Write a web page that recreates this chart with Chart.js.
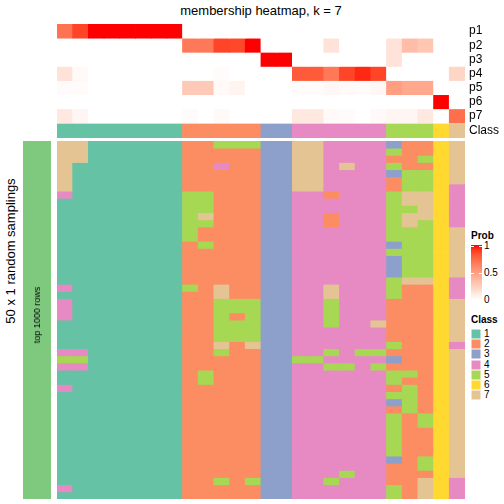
<!DOCTYPE html>
<html><head><meta charset="utf-8">
<script src="https://cdn.jsdelivr.net/npm/chart.js@4.4.1/dist/chart.umd.min.js"></script>
<style>
body{margin:0;width:504px;height:504px;position:relative;background:#fff;font-family:"Liberation Sans",Arial,sans-serif;overflow:hidden}
.abs{position:absolute}
.lg{position:absolute;font-size:10px;color:#000;line-height:10px}
</style></head><body>

<div class="abs" style="left:57px;top:3px;width:408px;text-align:center;font-size:13px;line-height:16px">membership heatmap, k = 7</div>
<div class="abs" style="left:10px;top:251px;width:0;height:0"><div style="position:absolute;transform:translate(-50%,-50%) rotate(-90deg);white-space:nowrap;font-size:13px;line-height:15px">50 x 1 random samplings</div></div>

<div class="abs" style="left:57px;top:24px;width:447px;height:114px"><canvas id="annot"></canvas></div>
<div class="abs" style="left:57px;top:141px;width:408px;height:358px"><canvas id="main"></canvas></div>
<div class="abs" style="left:23px;top:141px;width:28px;height:358px"><canvas id="rowbar"></canvas></div>
<div class="abs" style="left:37px;top:315px;width:0;height:0"><div id="rowbarText" style="position:absolute;transform:translate(-50%,-50%) rotate(-90deg);white-space:nowrap;font-size:9px;line-height:10px"></div></div>
<div id="legend"></div>

<script>
// ---------- data ----------
const columns = ['c1','c2','c3','c4','c5','c6','c7','c8','c9','c10','c11','c12','c13','c14','c15','c16','c17','c18','c19','c20','c21','c22','c23','c24','c25','c26'];
const annotLabels = ['p1','p2','p3','p4','p5','p6','p7','Class'];
const p1 = [0.70,0.88,1,1,1,1,1,1, 0,0,0,0,0, 0,0, 0,0,0,0,0,0, 0,0,0, 0, 0];
const p2 = [0,0,0,0,0,0,0,0, 0.68,0.68,0.88,0.87,1.0, 0,0, 0,0,0.15,0,0,0, 0.15,0.35,0.30, 0, 0];
const p3 = [0,0,0,0,0,0,0,0, 0,0,0,0,0, 1,1, 0,0,0,0,0,0, 0.15,0,0, 0, 0];
const p4 = [0.15,0.03,0,0,0,0,0,0, 0,0,0.02,0,0, 0,0, 0.80,0.80,0.68,0.88,0.95,0.88, 0,0,0, 0, 0.22];
const p5 = [0.02,0.02,0,0,0,0,0,0, 0.28,0.28,0.03,0.06,0, 0,0, 0.02,0.02,0.04,0.03,0.02,0.04, 0.50,0.45,0.45, 0, 0];
const p6 = [0,0,0,0,0,0,0,0, 0,0,0,0,0, 0,0, 0,0,0,0,0,0, 0,0,0, 1, 0];
const p7 = [0.12,0.05,0,0,0,0,0,0, 0.02,0,0.03,0,0, 0,0, 0.12,0.12,0.03,0.02,0,0.03, 0.05,0.05,0.12, 0, 0.72];
const classRow = [1,1,1,1,1,1,1,1, 2,2,2,2,2, 3,3, 4,4,4,4,4,4, 5,5,5, 6, 7];
const membership = [
 [7,7,1,1,1,1,1,1, 2,2,5,5,5, 3,3, 7,7,4,4,4,4, 3,2,2, 6, 7],
 [7,7,1,1,1,1,1,1, 2,2,2,2,2, 3,3, 7,7,4,4,4,4, 5,2,2, 6, 7],
 [7,7,1,1,1,1,1,1, 2,2,2,2,2, 3,3, 7,7,4,4,4,4, 2,2,5, 6, 7],
 [7,1,1,1,1,1,1,1, 2,2,4,2,2, 3,3, 7,7,4,7,4,4, 5,2,2, 6, 7],
 [7,1,1,1,1,1,1,1, 2,2,2,2,2, 3,3, 7,7,4,4,4,4, 3,5,5, 6, 7],
 [7,1,1,1,1,1,1,1, 2,2,2,2,2, 3,3, 7,7,4,4,4,4, 2,5,5, 6, 7],
 [7,1,1,1,1,1,1,1, 2,2,2,2,2, 3,3, 7,7,4,4,4,4, 2,5,5, 6, 4],
 [4,1,1,1,1,1,1,1, 5,5,2,2,2, 3,3, 4,4,2,4,4,4, 5,7,7, 6, 4],
 [1,1,1,1,1,1,1,1, 5,5,2,2,2, 3,3, 4,4,4,4,4,4, 5,7,7, 6, 4],
 [1,1,1,1,1,1,1,1, 5,5,2,2,2, 3,3, 4,4,4,4,4,4, 5,5,7, 6, 4],
 [1,1,1,1,1,1,1,1, 5,7,2,2,2, 3,3, 4,4,2,4,4,4, 5,7,7, 6, 4],
 [1,1,1,1,1,1,1,1, 5,5,2,2,2, 3,3, 4,4,2,4,4,4, 5,7,5, 6, 4],
 [1,1,1,1,1,1,1,1, 5,2,2,2,2, 3,3, 4,4,4,4,4,4, 5,5,5, 6, 7],
 [1,1,1,1,1,1,1,1, 5,2,2,2,2, 3,3, 4,4,4,4,4,4, 5,5,5, 6, 7],
 [1,1,1,1,1,1,1,1, 2,5,2,2,2, 3,3, 4,4,4,4,4,4, 3,5,5, 6, 7],
 [1,1,1,1,1,1,1,1, 2,2,2,2,2, 3,3, 4,4,4,4,4,4, 5,5,5, 6, 7],
 [1,1,1,1,1,1,1,1, 2,2,2,2,2, 3,3, 4,4,4,4,4,4, 3,5,5, 6, 7],
 [1,1,1,1,1,1,1,1, 2,2,2,2,2, 3,3, 4,4,4,4,4,4, 3,5,5, 6, 7],
 [1,1,1,1,1,1,1,1, 2,2,2,2,2, 3,3, 4,4,4,4,4,4, 3,5,5, 6, 7],
 [1,1,1,1,1,1,1,1, 2,2,2,2,2, 3,3, 4,4,4,4,4,4, 5,7,7, 6, 4],
 [4,1,1,1,1,1,1,1, 5,2,7,2,2, 3,3, 4,4,7,4,4,4, 5,2,2, 6, 4],
 [1,1,1,1,1,1,1,1, 2,2,7,2,2, 3,3, 4,4,7,4,4,4, 5,2,2, 6, 4],
 [4,1,1,1,1,1,1,1, 2,2,5,5,5, 3,3, 4,4,5,4,4,4, 2,2,2, 6, 7],
 [4,1,1,1,1,1,1,1, 2,2,5,5,5, 3,3, 4,4,5,4,4,4, 2,2,2, 6, 7],
 [4,1,1,1,1,1,1,1, 2,2,5,2,5, 3,3, 4,4,5,4,4,4, 2,2,2, 6, 7],
 [1,1,1,1,1,1,1,1, 2,2,5,5,5, 3,3, 4,4,5,4,4,7, 2,2,2, 6, 7],
 [1,1,1,1,1,1,1,1, 2,2,5,5,5, 3,3, 4,4,4,4,4,4, 2,2,2, 6, 7],
 [1,1,1,1,1,1,1,1, 2,2,5,5,5, 3,3, 4,4,4,4,4,4, 2,2,2, 6, 7],
 [1,1,1,1,1,1,1,1, 2,2,7,2,7, 3,3, 4,4,4,4,4,4, 5,2,2, 6, 4],
 [4,4,1,1,1,1,1,1, 2,2,5,2,2, 3,3, 4,4,5,4,5,5, 2,2,2, 6, 7],
 [5,5,1,1,1,1,1,1, 2,2,2,2,2, 3,3, 5,5,4,4,4,4, 3,2,2, 6, 7],
 [4,4,1,1,1,1,1,1, 2,2,2,2,2, 3,3, 4,4,5,5,4,5, 2,2,2, 6, 7],
 [1,1,1,1,1,1,1,1, 2,5,2,2,2, 3,3, 4,4,4,4,4,4, 5,5,2, 6, 7],
 [1,1,1,1,1,1,1,1, 2,5,2,2,2, 3,3, 4,4,4,4,4,4, 5,2,2, 6, 7],
 [4,1,1,1,1,1,1,1, 2,2,2,2,2, 3,3, 4,4,4,4,4,4, 2,5,2, 6, 7],
 [1,1,1,1,1,1,1,1, 2,2,2,2,2, 3,3, 4,4,4,4,4,4, 5,5,2, 6, 7],
 [1,1,1,1,1,1,1,1, 2,2,2,2,2, 3,3, 4,4,4,4,4,4, 3,5,2, 6, 7],
 [1,1,1,1,1,1,1,1, 2,2,2,2,2, 3,3, 4,4,4,4,4,4, 2,5,2, 6, 7],
 [1,1,1,1,1,1,1,1, 2,2,2,2,2, 3,3, 4,4,4,4,4,4, 5,2,5, 6, 7],
 [1,1,1,1,1,1,1,1, 2,2,2,2,2, 3,3, 4,4,4,4,4,4, 5,2,5, 6, 7],
 [1,1,1,1,1,1,1,1, 2,2,2,2,2, 3,3, 4,4,4,4,4,4, 5,2,2, 6, 7],
 [1,1,1,1,1,1,1,1, 2,2,2,2,2, 3,3, 4,4,4,4,4,4, 5,2,2, 6, 7],
 [1,1,1,1,1,1,1,1, 2,2,2,2,2, 3,3, 4,4,4,4,4,4, 5,2,2, 6, 7],
 [1,1,1,1,1,1,1,1, 2,2,2,2,2, 3,3, 4,4,4,4,4,4, 5,2,2, 6, 7],
 [1,1,1,1,1,1,1,1, 2,2,2,2,2, 3,3, 4,4,4,4,4,4, 3,2,5, 6, 7],
 [1,1,1,1,1,1,1,1, 2,2,2,2,2, 3,3, 4,4,4,4,4,4, 2,2,5, 6, 7],
 [1,1,1,1,1,1,1,1, 2,2,2,2,2, 3,3, 4,4,4,5,4,4, 2,2,2, 6, 7],
 [1,1,1,1,1,1,1,1, 2,2,5,2,5, 3,3, 4,4,5,4,4,4, 2,2,7, 6, 4],
 [4,1,1,1,1,1,1,1, 2,2,2,2,2, 3,3, 4,4,4,4,4,4, 5,2,7, 6, 4],
 [1,1,1,1,1,1,1,1, 2,2,2,2,2, 3,3, 4,4,4,4,4,4, 5,2,7, 6, 4]
];
const rowGroupLabel = ['top 1000 rows'];
const classLabels = ['1','2','3','4','5','6','7'];
const probTicks = [1, 0.5, 0];

// ---------- styles ----------
const classColors = {1:'#66C2A5',2:'#FC8D62',3:'#8DA0CB',4:'#E78AC3',5:'#A6D854',6:'#FFD92F',7:'#E5C494'};
const rowBarColor = '#7FC97F';

// white -> red ramp interpolated in CIE LAB (like circlize::colorRamp2)
function toLin(c){c/=255;return c<=0.04045?c/12.92:Math.pow((c+0.055)/1.055,2.4);}
function fromLin(c){c=c<=0.0031308?12.92*c:1.055*Math.pow(c,1/2.4)-0.055;return Math.round(Math.max(0,Math.min(1,c))*255);}
function rgb2lab(r,g,b){
  const R=toLin(r),G=toLin(g),B=toLin(b);
  let X=(0.4124*R+0.3576*G+0.1805*B)/0.95047, Y=(0.2126*R+0.7152*G+0.0722*B), Z=(0.0193*R+0.1192*G+0.9505*B)/1.08883;
  const f=t=>t>0.008856?Math.cbrt(t):7.787*t+16/116;
  const fx=f(X),fy=f(Y),fz=f(Z);
  return [116*fy-16,500*(fx-fy),200*(fy-fz)];
}
function lab2rgb(L,a,b){
  const fy=(L+16)/116,fx=fy+a/500,fz=fy-b/200;
  const fi=t=>t*t*t>0.008856?t*t*t:(t-16/116)/7.787;
  const X=fi(fx)*0.95047,Y=fi(fy),Z=fi(fz)*1.08883;
  const R=3.2406*X-1.5372*Y-0.4986*Z,G=-0.9689*X+1.8758*Y+0.0415*Z,B=0.0557*X-0.2040*Y+1.0570*Z;
  return 'rgb('+fromLin(R)+','+fromLin(G)+','+fromLin(B)+')';
}
const labW=rgb2lab(255,255,255), labR=rgb2lab(255,0,0);
function probColor(p){return lab2rgb(labW[0]+(labR[0]-labW[0])*p,labW[1]+(labR[1]-labW[1])*p,labW[2]+(labR[2]-labW[2])*p);}

Chart.defaults.font.family = '"Liberation Sans", Arial, sans-serif';
const barBase = {grouped:false,barPercentage:1,categoryPercentage:1,borderWidth:0,borderSkipped:false,inflateAmount:0.4};

// ---------- top annotation ----------
const probRows=[p1,p2,p3,p4,p5,p6,p7];
const annotDatasets = probRows.map((arr,i)=>Object.assign({
  label:annotLabels[i], data:arr.map(()=>[i,i+1]), backgroundColor:arr.map(probColor)},barBase));
annotDatasets.push(Object.assign({label:'Class',data:classRow.map(()=>[7.07,8.07]),backgroundColor:classRow.map(c=>classColors[c])},barBase));
const annotCenters=[0.5,1.5,2.5,3.5,4.5,5.5,6.5,7.57];
new Chart(document.getElementById('annot'),{
  type:'bar',
  data:{labels:columns,datasets:annotDatasets},
  options:{responsive:true,maintainAspectRatio:false,animation:false,
    layout:{padding:0},
    plugins:{legend:{display:false},tooltip:{enabled:false}},
    scales:{
      x:{display:false},
      y:{position:'right',min:0,max:8.07,reverse:true,
        grid:{display:false,drawTicks:false},border:{display:false},
        afterFit:s=>{s.width=39;s.paddingTop=0;s.paddingBottom=0;},
        afterBuildTicks:s=>{s.ticks=annotCenters.map(v=>({value:v}));},
        ticks:{autoSkip:false,padding:4,color:'#000',font:{size:12},callback:(v,i)=>annotLabels[i]}}
    }}
});

// ---------- main heatmap ----------
const mainDatasets = membership.map((row,r)=>Object.assign({
  label:'row'+(r+1), data:row.map(()=>[r,r+1]), backgroundColor:row.map(c=>classColors[c])},barBase));
new Chart(document.getElementById('main'),{
  type:'bar',
  data:{labels:columns,datasets:mainDatasets},
  options:{responsive:true,maintainAspectRatio:false,animation:false,layout:{padding:0},
    plugins:{legend:{display:false},tooltip:{enabled:false}},
    scales:{x:{display:false},y:{display:false,min:0,max:membership.length,reverse:true}}}
});

// ---------- row group bar ----------
new Chart(document.getElementById('rowbar'),{
  type:'bar',
  data:{labels:rowGroupLabel,datasets:[Object.assign({data:[[0,1]],backgroundColor:rowBarColor},barBase)]},
  options:{responsive:true,maintainAspectRatio:false,animation:false,layout:{padding:0},
    plugins:{legend:{display:false},tooltip:{enabled:false}},
    scales:{x:{display:false},y:{display:false,min:0,max:1}}}
});
document.getElementById('rowbarText').textContent = rowGroupLabel[0];

// ---------- legends (HTML) ----------
(function(){
  const L=document.getElementById('legend');
  let h='';
  h+='<div class="lg" style="left:471px;top:231px;font-weight:bold">Prob</div>';
  const stops=[];for(let k=0;k<=10;k++){const p=1-k/10;stops.push(probColor(p)+' '+(k*10)+'%');}
  h+='<div class="abs" style="left:471px;top:245px;width:11px;height:55px;background:linear-gradient(to bottom,'+stops.join(',')+')"></div>';
  const tickY={1:246,0.5:273,0:300};
  probTicks.forEach(t=>{
    if(t>0){h+='<div class="abs" style="left:471px;top:'+(tickY[t]-0.5)+'px;width:3px;height:1px;background:#fff"></div><div class="abs" style="left:479px;top:'+(tickY[t]-0.5)+'px;width:3px;height:1px;background:#fff"></div>';}
    h+='<div class="lg" style="left:484px;top:'+(tickY[t]-5)+'px">'+t+'</div>';
  });
  h+='<div class="lg" style="left:471px;top:315px;font-weight:bold">Class</div>';
  classLabels.forEach((lab,i)=>{
    const y=329+i*10.2;
    h+='<div class="abs" style="left:471px;top:'+y+'px;width:10px;height:10px;background:'+classColors[i+1]+';box-shadow:inset 0 0 0 0.5px #fff"></div>';
    h+='<div class="lg" style="left:484px;top:'+(y)+'px">'+lab+'</div>';
  });
  L.innerHTML=h;
})();
</script>
</body></html>
